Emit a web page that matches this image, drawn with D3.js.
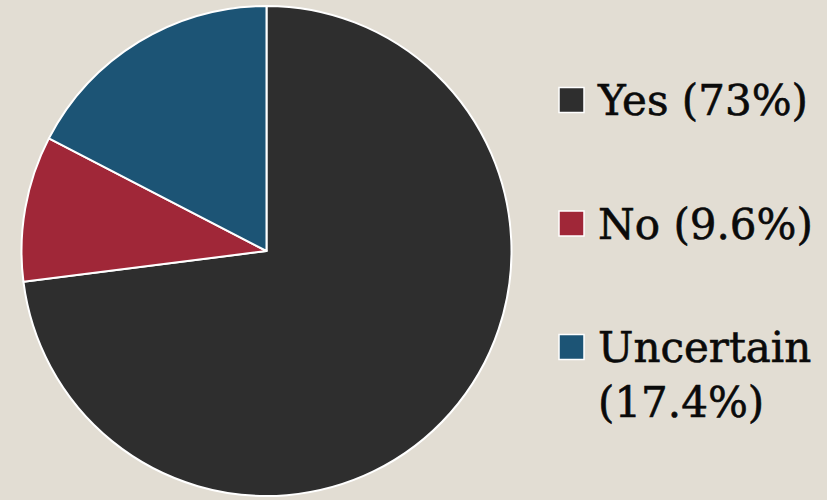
<!DOCTYPE html>
<html>
<head>
<meta charset="utf-8">
<script src="https://cdn.jsdelivr.net/npm/d3@7"></script>
<style>
  html, body { margin: 0; padding: 0; background: #e2ddd3; }
  svg { display: block; }
</style>
</head>
<body>
<div id="chart"></div>
<script>
// Data
const categories = ["Yes", "No", "Uncertain"];
const values = [73, 9.6, 17.4];
const labels = ["Yes (73%)", "No (9.6%)", "Uncertain\n(17.4%)"];
const colors = ["#2e2e2e", "#a02738", "#1c5475"];

const width = 827;
const height = 500;

const svg = d3.select("#chart")
  .append("svg")
  .attr("width", width)
  .attr("height", height);

svg.append("rect")
  .attr("width", width)
  .attr("height", height)
  .attr("fill", "#e2ddd3");

const data = categories.map((c, i) => ({ name: c, value: values[i], label: labels[i], color: colors[i] }));

// Pie
const radius = 245;
const pie = d3.pie().value(d => d.value).sort(null);
const arc = d3.arc().innerRadius(0).outerRadius(radius);

const g = svg.append("g")
  .attr("transform", "translate(266.5,251)");

g.selectAll("path")
  .data(pie(data))
  .enter()
  .append("path")
  .attr("d", arc)
  .attr("fill", d => d.data.color)
  .attr("stroke", "#ffffff")
  .attr("stroke-width", 2)
  .attr("stroke-linejoin", "round");

// Legend
const legendY = d3.scalePoint().domain(categories).range([100, 347]);

const item = svg.selectAll(".legend")
  .data(data)
  .enter()
  .append("g")
  .attr("class", "legend")
  .attr("transform", d => `translate(559,${legendY(d.name)})`);

item.append("rect")
  .attr("x", 0)
  .attr("y", -12.5)
  .attr("width", 25)
  .attr("height", 25)
  .attr("fill", d => d.color)
  .attr("stroke", "#ffffff")
  .attr("stroke-width", 1.5);

const txt = item.append("text")
  .attr("x", 39)
  .attr("y", 15)
  .style("font-family", "'DejaVu Serif', serif")
  .style("font-size", "42px")
  .attr("fill", "#0a0a0a")
  .attr("stroke", "#0a0a0a")
  .attr("stroke-width", 0.6);

txt.selectAll("tspan")
  .data(d => d.label.split("\n"))
  .enter()
  .append("tspan")
  .attr("x", 39)
  .attr("dy", (d, i) => i === 0 ? 0 : 55)
  .text(d => d);
</script>
</body>
</html>
